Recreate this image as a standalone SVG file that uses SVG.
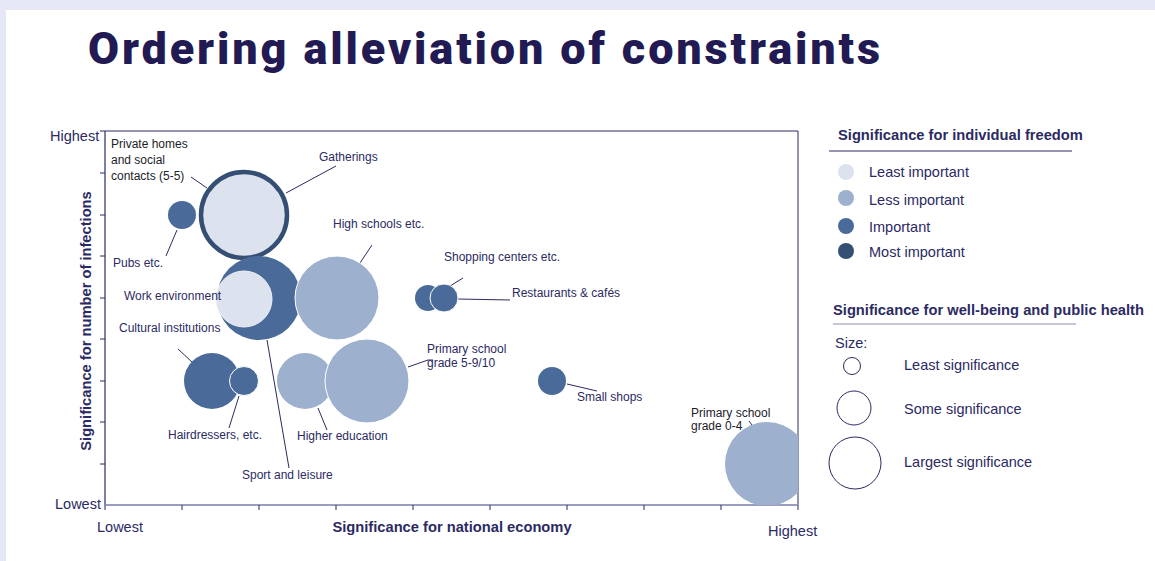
<svg xmlns="http://www.w3.org/2000/svg" width="1155" height="561" viewBox="0 0 1155 561">
<style>
.t{font-family:"Liberation Sans",Arial,sans-serif;fill:#2b2a63}
.lb{font-size:12px}
.blk{fill:#1c1c2a}
.ax{font-size:14.5px}
.axt{font-size:14.7px;font-weight:bold}
.lg{font-size:14.5px}
.lgh{font-size:14.7px;font-weight:bold}
.ld{stroke:#2b2a63;stroke-width:1;fill:none}
.c0{fill:#dde3ee}
.c1{fill:#9db0cd}
.c2{fill:#4a6b9a}
.c3{fill:#354e73}
.ow{stroke:#ffffff;stroke-width:1}
</style>
<rect x="0" y="0" width="1155" height="561" fill="#e6e9f5"/>
<rect x="6" y="10" width="1149" height="551" fill="#ffffff"/>
<text x="88" y="64" font-family="Roboto,'Liberation Sans',sans-serif" font-weight="900" font-size="45" fill="#221a52" textLength="792" lengthAdjust="spacing">Ordering alleviation of constraints</text>

<g id="axes">
<line x1="105" y1="131" x2="798" y2="131" stroke="#2b2a63" stroke-width="1"/>
<line x1="798" y1="131" x2="798" y2="505" stroke="#2b2a63" stroke-width="1"/>
<line x1="105" y1="131" x2="105" y2="505" stroke="#2b2a63" stroke-width="1.2"/>
<path d="M100 131H105M100 173H105M100 215H105M100 256H105M100 298H105M100 339H105M100 381H105M100 422H105M100 464H105" stroke="#2b2a63" stroke-width="1"/>
<line x1="105" y1="505" x2="798" y2="505" stroke="#9c9cc0" stroke-width="2"/>
<path d="M105 505V510M182 505V510M259 505V510M336 505V510M413 505V510M490 505V510M567 505V510M644 505V510M721 505V510M798 505V510" stroke="#2b2a63" stroke-width="1"/>
<text class="t ax" x="50" y="141">Highest</text>
<text class="t ax" x="55" y="509">Lowest</text>
<text class="t ax" x="97" y="532">Lowest</text>
<text class="t ax" x="768" y="536">Highest</text>
<text class="t axt" x="452" y="532" text-anchor="middle">Significance for national economy</text>
<text class="t axt" transform="translate(91,321) rotate(-90)" text-anchor="middle">Significance for number of infections</text>
</g>

<g id="connectors">
<line class="ld" x1="191" y1="177" x2="207" y2="188"/>
<line class="ld" x1="336" y1="166" x2="286" y2="193"/>
<line class="ld" x1="177" y1="230" x2="166" y2="256"/>
<line class="ld" x1="372" y1="245" x2="360" y2="263"/>
<line class="ld" x1="178" y1="349" x2="193" y2="363"/>
<line class="ld" x1="239" y1="396" x2="229" y2="428"/>
<line class="ld" x1="267" y1="340" x2="289" y2="468"/>
<line class="ld" x1="318" y1="408" x2="327" y2="430"/>
<polyline class="ld" points="408,367 428,360 433,360"/>
<line class="ld" x1="442" y1="291" x2="463" y2="278"/>
<line class="ld" x1="458" y1="299" x2="510" y2="300"/>
<line class="ld" x1="567" y1="384" x2="597" y2="391"/>
<line class="ld" x1="749" y1="421" x2="752" y2="425"/>
</g>

<defs><clipPath id="plot"><rect x="105" y="131" width="693" height="374"/></clipPath></defs>

<g id="gatherings"><circle class="c0" cx="244" cy="215" r="43" stroke="#354e73" stroke-width="4.5"/></g>
<g id="pubs"><circle class="c2" cx="182" cy="215" r="14"/></g>
<g id="sport"><circle class="c2" cx="259" cy="298" r="42"/></g>
<g id="work"><circle class="c0" cx="244" cy="299" r="28" stroke="#eef1f7" stroke-width="1"/></g>
<g id="highschools"><circle class="c1 ow" cx="337" cy="298" r="42"/></g>
<g id="shopping"><circle class="c2" cx="428" cy="298" r="13"/></g>
<g id="restaurants"><circle class="c2 ow" cx="444" cy="298" r="14"/></g>
<g id="cultural"><circle class="c2" cx="212" cy="381" r="28"/></g>
<g id="hairdressers"><circle class="c2 ow" cx="244" cy="381" r="14.5"/></g>
<g id="highered"><circle class="c1" cx="305" cy="381" r="28"/></g>
<g id="primary59"><circle class="c1 ow" cx="367" cy="381" r="42"/></g>
<g id="smallshops"><circle class="c2" cx="552" cy="381" r="14"/></g>
<g id="primary04"><circle class="c1" cx="767" cy="464" r="42" clip-path="url(#plot)"/></g>

<g id="labels">
<text class="t lb blk" x="111" y="148">Private homes</text>
<text class="t lb blk" x="111" y="164">and social</text>
<text class="t lb blk" x="111" y="180">contacts (5-5)</text>
<text class="t lb" x="319" y="161">Gatherings</text>
<text class="t lb" x="113" y="267">Pubs etc.</text>
<text class="t lb" x="333" y="228">High schools etc.</text>
<text class="t lb" x="124" y="300">Work environment</text>
<text class="t lb" x="119" y="332">Cultural institutions</text>
<text class="t lb" x="168" y="439">Hairdressers, etc.</text>
<text class="t lb" x="297" y="440">Higher education</text>
<text class="t lb" x="242" y="479">Sport and leisure</text>
<text class="t lb" x="427" y="353">Primary school</text>
<text class="t lb" x="427" y="367">grade 5-9/10</text>
<text class="t lb" x="444" y="261">Shopping centers etc.</text>
<text class="t lb" x="512" y="297">Restaurants &amp; cafés</text>
<text class="t lb" x="577" y="401">Small shops</text>
<text class="t lb blk" x="691" y="417">Primary school</text>
<text class="t lb blk" x="691" y="430">grade 0-4</text>
</g>

<g id="legend-freedom">
<text class="t lgh" x="838" y="140">Significance for individual freedom</text>
<line x1="829" y1="151" x2="1072" y2="151" stroke="#2b2a63" stroke-width="1.2"/>
<circle class="c0" cx="846" cy="172" r="8"/>
<circle class="c1" cx="846" cy="198" r="8"/>
<circle class="c2" cx="846" cy="226" r="8"/>
<circle class="c3" cx="846" cy="251" r="8"/>
<text class="t lg" x="869" y="177">Least important</text>
<text class="t lg" x="869" y="205">Less important</text>
<text class="t lg" x="869" y="232">Important</text>
<text class="t lg" x="869" y="257">Most important</text>
</g>

<g id="legend-health">
<text class="t lgh" x="833" y="315">Significance for well-being and public health</text>
<line x1="833" y1="324" x2="1076" y2="324" stroke="#8f8fb8" stroke-width="1.2"/>
<text class="t lg" x="835" y="348">Size:</text>
<circle cx="852" cy="366" r="8.5" fill="#ffffff" stroke="#2b2a63" stroke-width="1"/>
<circle cx="854" cy="408" r="17" fill="#ffffff" stroke="#2b2a63" stroke-width="1"/>
<circle cx="855" cy="463" r="26" fill="#ffffff" stroke="#2b2a63" stroke-width="1"/>
<text class="t lg" x="904" y="370">Least significance</text>
<text class="t lg" x="904" y="414">Some significance</text>
<text class="t lg" x="904" y="467">Largest significance</text>
</g>
</svg>
